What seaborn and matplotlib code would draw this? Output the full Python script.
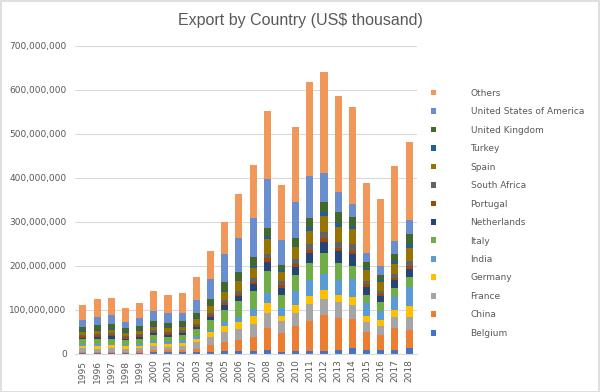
import matplotlib
matplotlib.use("Agg")
import matplotlib.pyplot as plt
from matplotlib.patches import Patch, Rectangle
from matplotlib.ticker import FuncFormatter
import seaborn as sns
import pandas as pd
import numpy as np

# values in million US$ thousand
years = [str(y) for y in range(1995, 2019)]

belgium = [3, 2, 3, 3, 3, 4, 4, 4, 4, 4, 6, 6, 6, 9, 5, 7, 7, 6, 10, 13, 8, 8, 8, 13]
china = [2, 2, 2, 2, 3, 4, 4, 5, 8, 16, 22, 25, 32, 51, 43, 57, 68, 82, 72, 66, 41, 36, 51, 42]
france = [8, 8, 8, 7, 7, 9, 8, 9, 15, 18, 22, 26, 30, 34, 27, 30, 38, 38, 36, 33, 23, 20, 25, 30]
germany = [6, 7, 7, 6, 6, 8, 7, 8, 8, 11, 13, 16, 18, 21, 12, 17, 19, 20, 17, 18, 14, 14, 15, 23]
india = [3, 3, 3, 3, 4, 5, 5, 5, 5, 6, 10, 12, 16, 23, 18, 31, 37, 36, 33, 40, 30, 20, 30, 44]
italy = [11, 12, 12, 10, 11, 12, 11, 11, 16, 22, 28, 35, 42, 50, 30, 38, 38, 48, 39, 29, 19, 19, 21, 24]
netherlands = [4, 5, 5, 4, 5, 5, 5, 5, 6, 8, 10, 12, 14, 22, 15, 17, 23, 25, 26, 27, 17, 14, 17, 17]
portugal = [3, 3, 3, 3, 3, 3, 3, 3, 3, 3, 4, 4, 5, 8, 6, 7, 6, 8, 8, 8, 6, 6, 6, 6]
south_africa = [4, 4, 4, 3, 3, 4, 4, 4, 4, 6, 7, 8, 9, 10, 10, 11, 14, 15, 14, 15, 8, 7, 8, 13]
spain = [6, 7, 8, 6, 7, 8, 8, 8, 10, 14, 18, 22, 24, 34, 20, 27, 30, 36, 33, 36, 25, 19, 23, 29]
turkey = [2, 2, 2, 2, 2, 2, 2, 2, 2, 2, 3, 3, 4, 5, 5, 4, 8, 9, 9, 6, 5, 5, 8, 8]
uk = [9, 11, 12, 9, 10, 11, 10, 10, 11, 15, 20, 17, 20, 20, 11, 17, 22, 23, 26, 20, 13, 11, 14, 23]
usa = [17, 19, 20, 15, 17, 23, 21, 20, 31, 45, 63, 77, 88, 110, 58, 83, 95, 65, 45, 30, 20, 21, 30, 33]
others = [33, 40, 39, 31, 35, 46, 42, 44, 53, 64, 74, 100, 121, 155, 124, 170, 214, 229, 218, 220, 160, 152, 170, 177]

series_names = ["Belgium", "China", "France", "Germany", "India", "Italy", "Netherlands",
                "Portugal", "South Africa", "Spain", "Turkey", "United Kingdom",
                "United States of America", "Others"]
series_values = [belgium, china, france, germany, india, italy, netherlands,
                 portugal, south_africa, spain, turkey, uk, usa, others]
colors = ["#4472C4", "#ED7D31", "#A5A5A5", "#FFC000", "#5B9BD5", "#70AD47", "#264478",
          "#9E480E", "#636363", "#997300", "#255E91", "#43682B", "#698ED0", "#F1975A"]

sns.set_style("white")
plt.rcParams["font.family"] = ["DejaVu Sans"]

df = pd.DataFrame({name: np.array(v) * 1e6 for name, v in zip(series_names, series_values)})
cum = df[series_names].cumsum(axis=1)
cum["Year"] = years

fig = plt.figure(figsize=(6, 3.92), dpi=100)
ax = fig.add_axes([0.125, 0.097, 0.57, 0.786])

# draw cumulative totals from the top series down so each bar covers the one below
for name, col in reversed(list(zip(series_names, colors))):
    sns.barplot(data=cum, x="Year", y=name, color=col, width=0.5, saturation=1,
                linewidth=0, edgecolor="none", ax=ax, order=years)

ax.set_ylim(0, 700e6)
ax.set_xlim(-0.56, len(years) - 0.44)
ax.set_yticks(np.arange(0, 700e6 + 1, 100e6))
ax.yaxis.set_major_formatter(FuncFormatter(lambda v, p: f"{int(v):,}"))
ax.grid(axis="y", color="#D9D9D9", linewidth=0.8)
ax.set_axisbelow(True)
for s in ["top", "right", "left"]:
    ax.spines[s].set_visible(False)
ax.spines["bottom"].set_color("#D9D9D9")
ax.set_xlabel("")
ax.set_ylabel("")
ax.tick_params(axis="both", length=0, labelsize=6.5, colors="#595959", pad=6)
ax.tick_params(axis="x", rotation=90, pad=4)

fig.text(0.5, 0.947, "Export by Country (US$ thousand)", ha="center", va="center",
         fontsize=11.5, color="#595959", family="Liberation Sans")

handles = [Patch(facecolor=c, edgecolor="none") for c in colors][::-1]
labels = series_names[::-1]
leg = fig.legend(handles, labels, loc="upper left", bbox_to_anchor=(0.712, 0.783),
                 frameon=False, fontsize=6.5, handlelength=0.6, handleheight=0.6,
                 handletextpad=3.8, labelspacing=1.05, borderaxespad=0)
for t in leg.get_texts():
    t.set_color("#595959")

fig.patches.append(Rectangle((0.001, 0.001), 0.997, 0.997, transform=fig.transFigure,
                             fill=False, edgecolor="#D9D9D9", linewidth=1.2))

fig.savefig("out.png", dpi=100)
